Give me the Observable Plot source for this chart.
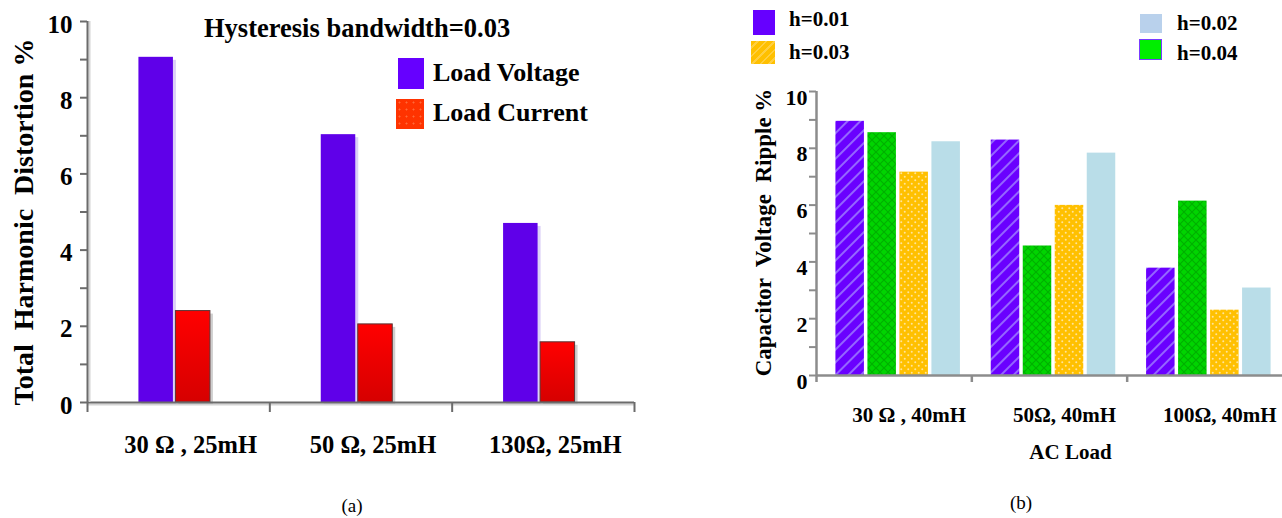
<!DOCTYPE html>
<html>
<head>
<meta charset="utf-8">
<script src="https://cdn.jsdelivr.net/npm/d3@7"></script>
<script src="https://cdn.jsdelivr.net/npm/@observablehq/plot@0.6"></script>
<style>
  body { margin: 0; background: #fff; }
  #wrap { position: relative; width: 1282px; height: 518px; overflow: hidden; background: #fff;
          font-family: "Liberation Serif", "Times New Roman", serif; }
  #wrap svg text { white-space: pre; }
  .txt { position: absolute; white-space: pre; line-height: 1; font-weight: bold; color: #000; }
  .cap { position: absolute; white-space: pre; line-height: 1; font-weight: normal; color: #000; }
  .sw { position: absolute; box-sizing: border-box; }
</style>
</head>
<body>
<svg width="0" height="0" style="position:absolute">
  <defs>
    <linearGradient id="redGrad" x1="0" y1="0" x2="0" y2="1">
      <stop offset="0" stop-color="#ff0000"/>
      <stop offset="1" stop-color="#d60000"/>
    </linearGradient>
    <pattern id="hatchPurple" patternUnits="userSpaceOnUse" width="9" height="9" patternTransform="rotate(45)">
      <rect width="9" height="9" fill="#6a00ff"/>
      <line x1="1" y1="0" x2="1" y2="9" stroke="#9466ff" stroke-width="2"/>
    </pattern>
    <pattern id="crossGreen" patternUnits="userSpaceOnUse" width="8" height="8">
      <rect width="8" height="8" fill="#00d400"/>
      <path d="M0,0L8,8M8,0L0,8" stroke="#00b000" stroke-width="1.2"/>
    </pattern>
    <pattern id="dotsYellow" patternUnits="userSpaceOnUse" width="7" height="7">
      <rect width="7" height="7" fill="#ffc000"/>
      <circle cx="1.75" cy="1.75" r="1" fill="#ffe49a"/>
      <circle cx="5.25" cy="5.25" r="1" fill="#ffe49a"/>
    </pattern>
  </defs>
</svg>
<div id="wrap"></div>
<script>
// ---------- data: panel (a) ----------
const catsA = ["30 Ω , 25mH", "50 Ω, 25mH", "130Ω, 25mH"];
const loadVoltage = [9.06, 7.03, 4.70];
const loadCurrent = [2.40, 2.05, 1.58];
const yTicksA = [0, 2, 4, 6, 8, 10];
const yTickMarksA = [0, 1, 2, 3, 4, 5, 6, 7, 8, 9, 10];
const titleA = "Hysteresis bandwidth=0.03";
const yLabelA = "Total  Harmonic  Distortion %";
const seriesA = ["Load Voltage", "Load Current"];

// ---------- data: panel (b) ----------
const catsB = ["30 Ω , 40mH", "50Ω, 40mH", "100Ω, 40mH"];
const h001 = [8.95, 8.29, 3.78];
const h004 = [8.55, 4.56, 6.14];
const h003 = [7.16, 5.99, 2.30];
const h002 = [8.23, 7.83, 3.08];
const yTicksB = [0, 2, 4, 6, 8, 10];
const yTickMarksB = [0, 1, 2, 3, 4, 5, 6, 7, 8, 9, 10];
const yLabelB = "Capacitor  Voltage  Ripple %";
const xLabelB = "AC Load";

const FONT = "'Liberation Serif', 'Times New Roman', serif";
const AXIS = "#6b6b6b";

function slot(bw, barW, gap, n, shift, k) {
  const groupW = n * barW + (n - 1) * gap;
  const left = bw / 2 + shift - groupW / 2 + k * (barW + gap);
  return {insetLeft: left, insetRight: bw - left - barW};
}

const wrap = document.getElementById("wrap");

// ---------- panel (a) ----------
const W_A = 660, H_A = 470;
const mA = {top: 21, right: 26, bottom: 68, left: 87};
const bwA = (W_A - mA.left - mA.right) / catsA.length;
const sA0 = slot(bwA, 34.5, 2.5, 2, -4, 0);
const sA1 = slot(bwA, 34.5, 2.5, 2, -4, 1);
const rowsA = catsA.map((cat, i) => ({cat, voltage: loadVoltage[i], current: loadCurrent[i]}));

const plotA = Plot.plot({
  width: W_A, height: H_A,
  marginTop: mA.top, marginRight: mA.right, marginBottom: mA.bottom, marginLeft: mA.left,
  x: {type: "band", domain: catsA, padding: 0, round: false, axis: null, label: null},
  y: {domain: [0, 10], axis: null, label: null},
  style: {fontFamily: FONT, fontWeight: "bold", background: "transparent", overflow: "visible", color: "#000"},
  marks: [
    Plot.barY(rowsA, {x: "cat", y: "voltage", ...sA0, fill: "#dcd0f7", dx: 3, dy: 3}),
    Plot.barY(rowsA, {x: "cat", y: "current", ...sA1, fill: "#cfcfcf", dx: 3, dy: 3}),
    Plot.barY(rowsA, {x: "cat", y: "voltage", ...sA0, fill: "#5f00e9"}),
    Plot.barY(rowsA, {x: "cat", y: "current", ...sA1, fill: "url(#redGrad)", stroke: "#5a3434", strokeWidth: 1}),
    Plot.ruleY([0], {stroke: "#d4d4d4", strokeWidth: 2, dy: 2}),
    Plot.ruleY([0], {stroke: AXIS, strokeWidth: 2}),
    Plot.ruleX([catsA[0]], {dx: -bwA / 2 + 2, stroke: "#d4d4d4", strokeWidth: 2}),
    Plot.ruleX([catsA[0]], {dx: -bwA / 2, stroke: AXIS, strokeWidth: 2}),
    Plot.axisY({ticks: yTickMarksA, tickSize: 7, tickFormat: () => "", stroke: AXIS, strokeWidth: 2, label: null}),
    Plot.axisY({ticks: yTicksA, tickSize: 0, tickPadding: 15, fontSize: 25, fontWeight: "bold", dy: 3, label: null}),
    Plot.axisX({ticks: catsA, tickSize: 10, tickFormat: () => "", dx: -bwA / 2, stroke: AXIS, strokeWidth: 2, label: null}),
    Plot.axisX({ticks: [catsA[catsA.length - 1]], tickSize: 10, tickFormat: () => "", dx: bwA / 2, stroke: AXIS, strokeWidth: 2, label: null}),
    Plot.axisX({ticks: catsA, tickSize: 0, tickPadding: 33, fontSize: 24.5, fontWeight: "bold", dx: 12, label: null}),
    Plot.text([yLabelA], {text: d => d, frameAnchor: "left", textAnchor: "middle", rotate: -90, dx: -63, dy: 10, fontSize: 28, fontWeight: "bold"})
  ]
});
plotA.style.position = "absolute";
plotA.style.left = "0px";
plotA.style.top = "0px";
wrap.appendChild(plotA);

// ---------- panel (b) ----------
const LEFT_B = 700;
const W_B = 582, H_B = 470;
const mB = {top: 91, right: 0, bottom: 95, left: 116};
const bwB = (W_B - mB.left - mB.right) / catsB.length;
const sB = [0, 1, 2, 3].map(k => slot(bwB, 28.5, 3.5, 4, 4, k));
const rowsB = catsB.map((cat, i) => ({cat, h001: h001[i], h004: h004[i], h003: h003[i], h002: h002[i]}));

const plotB = Plot.plot({
  width: W_B, height: H_B,
  marginTop: mB.top, marginRight: mB.right, marginBottom: mB.bottom, marginLeft: mB.left,
  x: {type: "band", domain: catsB, padding: 0, round: false, axis: null, label: null},
  y: {domain: [0, 10], axis: null, label: null},
  style: {fontFamily: FONT, fontWeight: "bold", background: "transparent", overflow: "visible", color: "#000"},
  marks: [
    Plot.barY(rowsB, {x: "cat", y: "h001", ...sB[0], fill: "url(#hatchPurple)"}),
    Plot.barY(rowsB, {x: "cat", y: "h004", ...sB[1], fill: "url(#crossGreen)"}),
    Plot.barY(rowsB, {x: "cat", y: "h003", ...sB[2], fill: "url(#dotsYellow)"}),
    Plot.barY(rowsB, {x: "cat", y: "h002", ...sB[3], fill: "#b9dde8"}),
    Plot.ruleY([0], {stroke: "#8c8c8c", strokeWidth: 2.5}),
    Plot.ruleX([catsB[0]], {dx: -bwB / 2, stroke: "#8c8c8c", strokeWidth: 2.5}),
    Plot.axisY({ticks: yTickMarksB, tickSize: 7, tickFormat: () => "", stroke: "#8c8c8c", strokeWidth: 2, label: null}),
    Plot.axisY({ticks: yTicksB, tickSize: 0, tickPadding: 9, fontSize: 22, fontWeight: "bold", dy: 6, label: null}),
    Plot.axisX({ticks: catsB, tickSize: 7, tickFormat: () => "", dx: -bwB / 2, stroke: "#8c8c8c", strokeWidth: 2.5, label: null}),
    Plot.axisX({ticks: catsB, tickSize: 0, tickPadding: 32, fontSize: 21, fontWeight: "bold", dx: 15, label: null}),
    Plot.text([xLabelB], {text: d => d, frameAnchor: "bottom", lineAnchor: "middle", dx: 21, dy: 77, fontSize: 21, fontWeight: "bold"}),
    Plot.text([yLabelB], {text: d => d, frameAnchor: "left", textAnchor: "middle", rotate: -90, dx: -53, dy: -1, fontSize: 23, fontWeight: "bold"})
  ]
});
plotB.style.position = "absolute";
plotB.style.left = LEFT_B + "px";
plotB.style.top = "0px";
wrap.appendChild(plotB);

// ---------- HTML titles, legends, captions ----------
function addText(cls, str, left, baseline, size, center) {
  const el = document.createElement("div");
  el.className = cls;
  el.textContent = str;
  el.style.fontSize = size + "px";
  el.style.top = (baseline - 0.8375 * size) + "px";
  el.style.left = left + "px";
  if (center) el.style.transform = "translateX(-50%)";
  wrap.appendChild(el);
  return el;
}
function addSwatch(left, top, w, h, bg, border) {
  const el = document.createElement("div");
  el.className = "sw";
  Object.assign(el.style, {left: left + "px", top: top + "px", width: w + "px", height: h + "px", background: bg});
  if (border) el.style.border = border;
  wrap.appendChild(el);
}

addText("txt", titleA, 204, 37, 26.5);
addSwatch(398, 58, 26, 31, "#6600ff");
addText("txt", seriesA[0], 433, 82, 26);
addSwatch(396, 99, 28, 30, "radial-gradient(circle, #ff6a3a 0.8px, transparent 1.2px) 0 0/7px 7px, #ff3300");
addText("txt", seriesA[1], 433, 121.5, 26);

const legendB = ["h=0.01", "h=0.02", "h=0.03", "h=0.04"];
addSwatch(752.5, 10, 22.5, 25, "#6600ff");
addText("txt", legendB[0], 789, 26.7, 21);
addSwatch(751, 40.5, 24, 23, "repeating-linear-gradient(135deg, #ffc000 0 4px, #ffcf40 4px 6px)");
addText("txt", legendB[2], 789, 60, 21);
addSwatch(1139.5, 14, 22, 19, "#b9d1ec");
addText("txt", legendB[1], 1177, 30.7, 21);
addSwatch(1139, 38.5, 23, 21, "#00ee00", "1px solid #7a3cff");
addText("txt", legendB[3], 1177, 61, 21);

addText("cap", "(a)", 352, 512, 19, true);
addText("cap", "(b)", 1021, 509, 19, true);
</script>
</body>
</html>
